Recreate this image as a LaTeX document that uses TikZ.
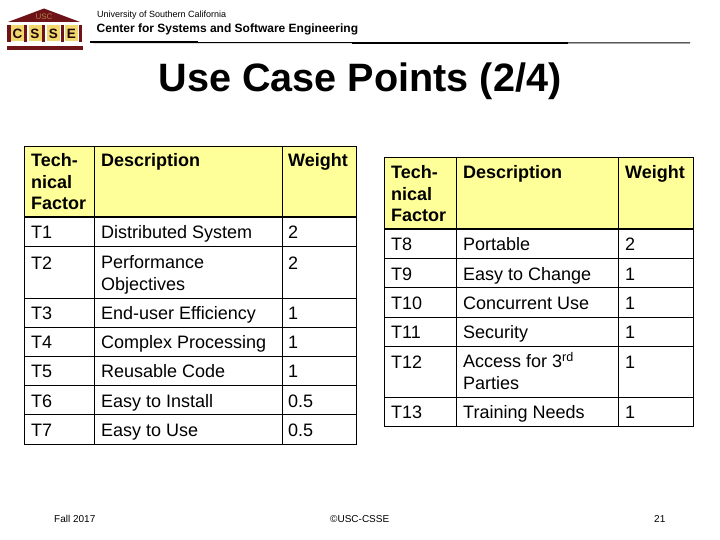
\documentclass[tikz,border=0pt]{standalone}
\usepackage{fontspec}
\setmainfont{Liberation Sans}
\usetikzlibrary{calc}
\definecolor{headyellow}{RGB}{255,255,153}
\definecolor{logored}{RGB}{110,20,25}
\definecolor{logogold}{RGB}{240,215,110}
\tikzset{
	cell/.style = {anchor = base west, inner sep = 0pt, font = \fontsize{18}{21.3}\selectfont, align = left},
	head/.style = {cell, font = \fontsize{18}{21.5}\selectfont\bfseries},
	grid/.style = {draw = black, line width = 0.9pt},
	bar/.style = {draw = black, line width = 2pt},
	letter/.style = {fill = logogold, minimum width = 13pt, minimum height = 16pt, inner sep = 0pt, font = \fontsize{13.5}{13.5}\selectfont\bfseries, text = black!70!logored},
	column/.style = {fill = logored},
	small/.style = {anchor = base west, inner sep = 0pt, font = \fontsize{10}{10}\selectfont},
}
\begin{document}
\begin{tikzpicture}[x = 1pt, y = -1pt]
	\useasboundingbox (0,0) rectangle (720,540);
	\fill[white] (0,0) rectangle (720,540);
	% logo
	\coordinate (roofl) at (8,22);
	\coordinate (roofr) at (80,22);
	\coordinate (roofm) at (44,8.5);
	\fill[logored] (roofl) -- (roofm) -- (roofr) -- cycle;
	\node[inner sep = 0pt, text = logogold!55!logored, font = \fontsize{8}{8}\selectfont] (usc) at (44,16.5) {USC};
	\fill[column] (7,25) rectangle (10.5,42);
	\fill[column] (24,25) rectangle (27,42);
	\fill[column] (42,25) rectangle (45,42);
	\fill[column] (60.5,25) rectangle (63.5,42);
	\fill[column] (78.5,25) rectangle (82,42);
	\node[letter] (lc) at (17.5,33.5) {C};
	\node[letter] (ls) at (35,33.5) {S};
	\node[letter] (lt) at (53.5,33.5) {S};
	\node[letter] (le) at (71.5,33.5) {E};
	\fill[logored] (7,46.5) rectangle (83,50.5);
	% header
	\node[small, font = \fontsize{9}{9}\selectfont] (univ) at (97,18) {University of Southern California};
	\node[anchor = base west, inner sep = 0pt, font = \fontsize{12}{12}\selectfont\bfseries] (center) at (96.5,33) {Center for Systems and Software Engineering};
	\draw[line width = 1pt] (90,42.5) -- (690,43);
	\draw[line width = 2pt] (90,42) -- (198,42);
	\draw[line width = 2pt] (352,43) -- (568,43);
	% title
	\node[anchor = base, inner sep = 0pt, font = \fontsize{39.6}{44}\selectfont\bfseries] (title) at (360,92) {Use Case Points (2/4)};
	% left table
	\coordinate (a) at (24,146.5);
	\coordinate (b) at (94.5,217.5);
	\coordinate (c) at (282,444);
	\coordinate (d) at (356.5,444);
	\fill[headyellow] (a) rectangle (d |- b);
	\draw[grid] (a) rectangle (d);
	\draw[grid] (b |- a) -- (b |- c);
	\draw[grid] (c |- a) -- (c);
	\draw[bar] (a |- b) -- (d |- b);
	\draw[grid] (24,246.7) -- (356.5,246.7);
	\draw[grid] (24,298.3) -- (356.5,298.3);
	\draw[grid] (24,327.3) -- (356.5,327.3);
	\draw[grid] (24,356) -- (356.5,356);
	\draw[grid] (24,385) -- (356.5,385);
	\draw[grid] (24,414.3) -- (356.5,414.3);
	\node[head] (ltf) at (31,210) {Tech-\\nical\\Factor};
	\node[head] (ldesc) at (101,167) {Description};
	\node[head] (lwt) at (288,167) {Weight};
	\node[cell] (t1) at (31,239) {T1};
	\node[cell] (d1) at (101,239) {Distributed System};
	\node[cell] (w1) at (288,239) {2};
	\node[cell] (t2) at (31,269) {T2};
	\node[cell] (d2) at (101,290) {Performance\\Objectives};
	\node[cell] (w2) at (288,269) {2};
	\node[cell] (t3) at (31,319) {T3};
	\node[cell] (d3) at (101,319) {End-user Efficiency};
	\node[cell] (w3) at (288,319) {1};
	\node[cell] (t4) at (31,348) {T4};
	\node[cell] (d4) at (101,348) {Complex Processing};
	\node[cell] (w4) at (288,348) {1};
	\node[cell] (t5) at (31,377.5) {T5};
	\node[cell] (d5) at (101,377.5) {Reusable Code};
	\node[cell] (w5) at (288,377.5) {1};
	\node[cell] (t6) at (31,407) {T6};
	\node[cell] (d6) at (101,407) {Easy to Install};
	\node[cell] (w6) at (288,407) {0.5};
	\node[cell] (t7) at (31,436) {T7};
	\node[cell] (d7) at (101,436) {Easy to Use};
	\node[cell] (w7) at (288,436) {0.5};
	% right table
	\coordinate (e) at (384.3,157.5);
	\coordinate (f) at (456.3,229.5);
	\coordinate (g) at (618.3,426);
	\coordinate (h) at (693.3,426);
	\fill[headyellow] (e) rectangle (h |- f);
	\draw[grid] (e) rectangle (h);
	\draw[grid] (f |- e) -- (f |- g);
	\draw[grid] (g |- e) -- (g);
	\draw[bar] (e |- f) -- (h |- f);
	\draw[grid] (384.3,258.3) -- (693.3,258.3);
	\draw[grid] (384.3,287.7) -- (693.3,287.7);
	\draw[grid] (384.3,317.3) -- (693.3,317.3);
	\draw[grid] (384.3,346) -- (693.3,346);
	\draw[grid] (384.3,397.3) -- (693.3,397.3);
	\node[head] (rtf) at (391,222) {Tech-\\nical\\Factor};
	\node[head] (rdesc) at (463,179) {Description};
	\node[head] (rwt) at (625,179) {Weight};
	\node[cell] (t8) at (391,251) {T8};
	\node[cell] (d8) at (463,251) {Portable};
	\node[cell] (w8) at (625,251) {2};
	\node[cell] (t9) at (391,280) {T9};
	\node[cell] (d9) at (463,280) {Easy to Change};
	\node[cell] (w9) at (625,280) {1};
	\node[cell] (t10) at (391,309) {T10};
	\node[cell] (d10) at (463,309) {Concurrent Use};
	\node[cell] (w10) at (625,309) {1};
	\node[cell] (t11) at (391,338.5) {T11};
	\node[cell] (d11) at (463,338.5) {Security};
	\node[cell] (w11) at (625,338.5) {1};
	\node[cell] (t12) at (391,368) {T12};
	\node[cell] (d12) at (463,389) {Access for 3\textsuperscript{rd}\\Parties};
	\node[cell] (w12) at (625,368) {1};
	\node[cell] (t13) at (391,418) {T13};
	\node[cell] (d13) at (463,418) {Training Needs};
	\node[cell] (w13) at (625,418) {1};
	% footer
	\node[small] (fall) at (54,522) {Fall 2017};
	\node[small] (copy) at (330,522) {©USC-CSSE};
	\node[small] (page) at (654,522) {21};
\end{tikzpicture}
\end{document}
